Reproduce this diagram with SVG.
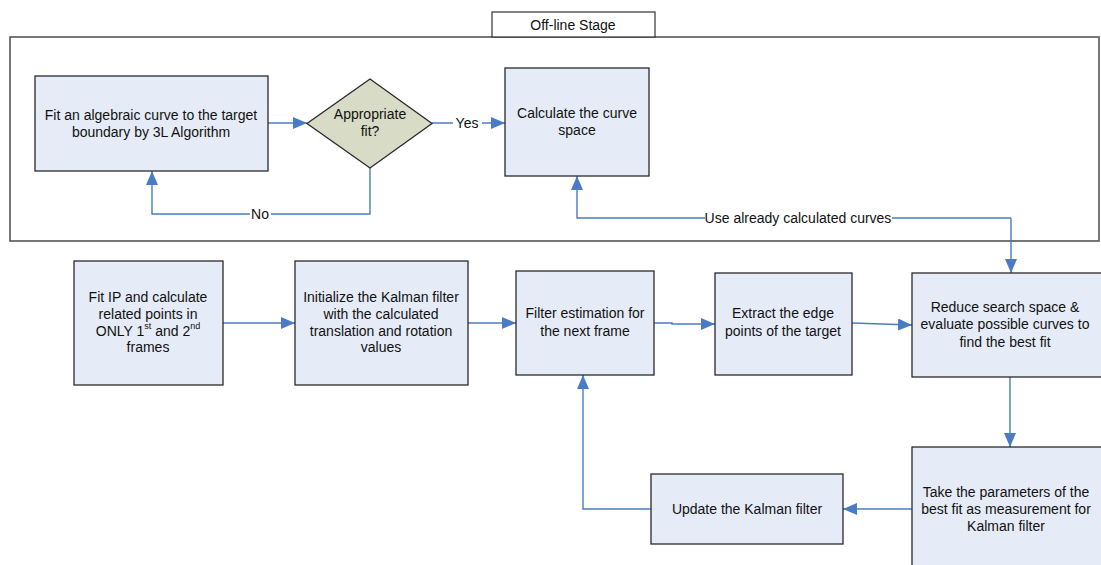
<svg xmlns="http://www.w3.org/2000/svg" width="1101" height="565" viewBox="0 0 1101 565">
<defs>
<marker id="ah" markerWidth="14" markerHeight="12" refX="14" refY="6" orient="auto" markerUnits="userSpaceOnUse">
<path d="M0,0 L14,6 L0,12 Z" fill="#4a7cc4"/>
</marker>
<style>
.box{fill:#e6ecf7;stroke:#2a2a2a;stroke-width:1.3}
.dia{fill:#d8dbc5;stroke:#2a2a2a;stroke-width:1.3}
.t{font-family:"Liberation Sans",Arial,sans-serif;font-size:14px;fill:#111;text-anchor:middle;dominant-baseline:central}
.c{fill:none;stroke:#4a7cc4;stroke-width:1.4}
.ca{fill:none;stroke:#4a7cc4;stroke-width:1.4;marker-end:url(#ah)}
.lbl{fill:#fff}
</style>
</defs>
<rect width="1101" height="565" fill="#fff"/>
<g id="stage">
<rect x="10" y="37" width="1089" height="204" fill="none" stroke="#555" stroke-width="1.6"/>
<rect x="492" y="12" width="163" height="25" fill="#fff" stroke="#333" stroke-width="1.2"/>
<text class="t" x="573" y="25">Off-line Stage</text>
</g>
<g id="connectors">
<line class="ca" x1="268" y1="123" x2="307" y2="123"/>
<line class="ca" x1="432" y1="123" x2="505" y2="123"/>
<polyline class="ca" points="370,168 370,214 152,214 152,171"/>
<polyline class="ca" points="1011,218 577,218 577,176" />
<line class="ca" x1="1011" y1="218" x2="1011" y2="273"/>
<line class="ca" x1="223" y1="323" x2="295" y2="323"/>
<line class="ca" x1="468" y1="323" x2="516" y2="323"/>
<polyline class="ca" points="654,323 672,323 672,324 715,324"/>
<line class="ca" x1="852" y1="323" x2="912" y2="325"/>
<line class="ca" x1="1010" y1="377" x2="1010" y2="447"/>
<line class="ca" x1="912" y1="509" x2="843" y2="509"/>
<polyline class="ca" points="651,509 583,509 583,375"/>
<rect class="lbl" x="453" y="115" width="29" height="16"/>
<text class="t" x="467" y="123">Yes</text>
<rect class="lbl" x="250" y="206" width="21" height="16"/>
<text class="t" x="260" y="214">No</text>
<rect class="lbl" x="705" y="210" width="187" height="16"/>
<text class="t" x="798" y="218">Use already calculated curves</text>
</g>
<g id="n1">
<rect class="box" x="35" y="76" width="233" height="95"/>
<text class="t" x="151" y="115">Fit an algebraic curve to the target</text>
<text class="t" x="151" y="132">boundary by 3L Algorithm</text>
</g>
<g id="n2">
<polygon class="dia" points="370,79 432,123.5 370,168 307,123.5"/>
<text class="t" x="370" y="114">Appropriate</text>
<text class="t" x="370" y="131">fit?</text>
</g>
<g id="n3">
<rect class="box" x="505" y="68" width="144" height="108"/>
<text class="t" x="577" y="113">Calculate the curve</text>
<text class="t" x="577" y="130">space</text>
</g>
<g id="n4">
<rect class="box" x="74" y="261" width="149" height="124"/>
<text class="t" x="148" y="297">Fit IP and calculate</text>
<text class="t" x="148" y="314">related points in</text>
<text class="t" x="148" y="331">ONLY 1<tspan font-size="9" dy="-5">st</tspan><tspan dy="5"> and 2</tspan><tspan font-size="9" dy="-5">nd</tspan></text>
<text class="t" x="148" y="347">frames</text>
</g>
<g id="n5">
<rect class="box" x="295" y="261" width="173" height="124"/>
<text class="t" x="381" y="297">Initialize the Kalman filter</text>
<text class="t" x="381" y="314">with the calculated</text>
<text class="t" x="381" y="331">translation and rotation</text>
<text class="t" x="381" y="347">values</text>
</g>
<g id="n6">
<rect class="box" x="516" y="271" width="138" height="104"/>
<text class="t" x="585" y="313">Filter estimation for</text>
<text class="t" x="585" y="331">the next frame</text>
</g>
<g id="n7">
<rect class="box" x="715" y="273" width="137" height="102"/>
<text class="t" x="783" y="313">Extract the edge</text>
<text class="t" x="783" y="331">points of the target</text>
</g>
<g id="n8">
<rect class="box" x="912" y="273" width="190" height="104"/>
<text class="t" x="1005" y="307">Reduce search space &amp;</text>
<text class="t" x="1005" y="324">evaluate possible curves to</text>
<text class="t" x="1005" y="342">find the best fit</text>
</g>
<g id="n9">
<rect class="box" x="912" y="447" width="190" height="125"/>
<text class="t" x="1006" y="492">Take the parameters of the</text>
<text class="t" x="1006" y="509">best fit as measurement for</text>
<text class="t" x="1006" y="526">Kalman filter</text>
</g>
<g id="n10">
<rect class="box" x="651" y="474" width="192" height="70"/>
<text class="t" x="747" y="509">Update the Kalman filter</text>
</g>
</svg>
